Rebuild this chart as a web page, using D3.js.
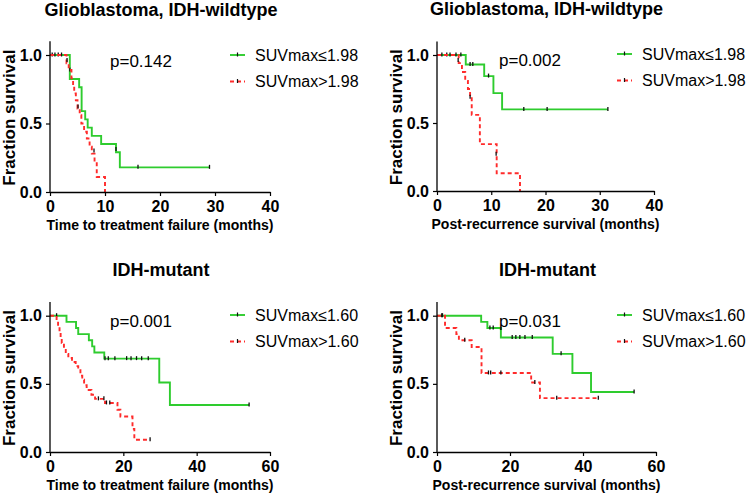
<!DOCTYPE html>
<html><head><meta charset="utf-8">
<script src="https://cdn.jsdelivr.net/npm/d3@7"></script>
<style>body{margin:0;background:#fff}svg{display:block}text{font-family:Arial,"Liberation Sans",sans-serif}</style>
</head><body>
<svg id="c" width="749" height="502"></svg>
<script>
// ---------- data ----------
const titles = ["Glioblastoma, IDH-wildtype","Glioblastoma, IDH-wildtype","IDH-mutant","IDH-mutant"];
const xLabels = ["Time to treatment failure (months)","Post-recurrence survival (months)","Time to treatment failure (months)","Post-recurrence survival (months)"];
const yLabel = "Fraction survival";
const pValues = ["p=0.142","p=0.002","p=0.001","p=0.031"];
const legendLow = ["SUVmax\u22641.98","SUVmax\u22641.98","SUVmax\u22641.60","SUVmax\u22641.60"];
const legendHigh = ["SUVmax>1.98","SUVmax>1.98","SUVmax>1.60","SUVmax>1.60"];
const xTicksTop = [0,10,20,30,40];
const xTicksBottom = [0,20,40,60];
const yTicks = [0,0.5,1.0];
const yTickLabels = ["0.0","0.5","1.0"];

// Panel 1: GBM, time to treatment failure
const p1GreenT = [0,3.6,5.3,5.75,6.4,6.85,7.6,9.3,12.0,12.7];
const p1GreenS = [1,0.825,0.765,0.59,0.53,0.47,0.41,0.35,0.29,0.18];
const p1GreenEnd = 29.0;
const p1GreenCensT = [0.4,0.9,1.5,2.1,3.6,12.0,16.0,29.0];
const p1GreenCensS = [1,1,1,1,0.89,0.31,0.18,0.18];
const p1RedT = [0,3.0,3.4,3.9,4.2,4.4,4.7,5.0,5.4,5.7,6.2,6.7,7.2,7.6,8.1,8.5,10.0];
const p1RedS = [1,0.94,0.89,0.83,0.78,0.72,0.67,0.61,0.56,0.50,0.44,0.39,0.33,0.28,0.22,0.11,0];
const p1RedEnd = 10.0;
const p1RedCensT = [3.1,5.1,8.0];
const p1RedCensS = [0.96,0.62,0.30];

// Panel 2: GBM, post-recurrence survival
const p2GreenT = [0,5.3,8.7,10.4,12.0];
const p2GreenS = [1,0.93,0.845,0.72,0.60];
const p2GreenEnd = 31.5;
const p2GreenCensT = [0.9,1.8,2.4,3.5,4.4,6.1,6.6,9.5,16.0,20.3,31.5];
const p2GreenCensS = [1,1,1,1,1,0.93,0.93,0.845,0.60,0.60,0.60];
const p2RedT = [0,4.0,4.6,5.2,5.7,6.1,6.4,7.9,11.0,15.3];
const p2RedS = [1,0.94,0.875,0.81,0.75,0.69,0.56,0.345,0.13,0];
const p2RedEnd = 15.3;
const p2RedCensT = [3.9,6.1,10.9];
const p2RedCensS = [0.96,0.69,0.27];

// Panel 3: IDH-mutant, time to treatment failure
const p3GreenT = [0,4.5,7.1,7.7,10.6,11.5,12.1,14.8,29.8,32.7];
const p3GreenS = [1,0.955,0.91,0.865,0.82,0.775,0.73,0.685,0.51,0.345];
const p3GreenEnd = 54.3;
const p3GreenCensT = [1.8,15.0,15.9,17.7,20.9,22.1,23.6,25.0,26.8,54.3];
const p3GreenCensS = [1,0.685,0.685,0.685,0.685,0.685,0.685,0.685,0.685,0.345];
const p3RedT = [0,1.8,2.2,2.6,2.9,3.2,3.8,4.3,5.0,6.0,7.0,7.7,8.3,8.8,9.3,10.0,11.3,12.3,15.0,18.4,19.2,22.5,23.0];
const p3RedS = [1,0.96,0.92,0.88,0.84,0.80,0.76,0.72,0.69,0.66,0.63,0.60,0.56,0.53,0.49,0.455,0.42,0.39,0.36,0.31,0.26,0.17,0.09];
const p3RedEnd = 27.3;
const p3RedCensT = [13.2,14.7,15.4,16.3,27.3];
const p3RedCensS = [0.39,0.39,0.36,0.36,0.09];

// Panel 4: IDH-mutant, post-recurrence survival
const p4GreenT = [0,12.1,13.8,17.5,31.7,37.1,42.2];
const p4GreenS = [1,0.955,0.91,0.84,0.72,0.58,0.44];
const p4GreenEnd = 54.0;
const p4GreenCensT = [1.3,14.5,15.4,20.6,21.6,22.7,24.1,26.1,34.0,54.0];
const p4GreenCensS = [1,0.91,0.91,0.84,0.84,0.84,0.84,0.84,0.72,0.44];
const p4RedT = [0,2.2,5.3,6.0,9.5,12.2,25.8,28.2];
const p4RedS = [1,0.91,0.865,0.82,0.77,0.58,0.51,0.395];
const p4RedEnd = 44.2;
const p4RedCensT = [1.5,7.6,14.1,14.7,17.5,26.8,32.8,44.2];
const p4RedCensS = [1,0.82,0.58,0.58,0.58,0.51,0.395,0.395];

// ---------- layout ----------
const GREEN = "#2ecc2e", RED = "#ff2b2b";
const panels = [
  {x0:50, x1:270, yb:192, y1:55, xd:40, xt:xTicksTop,
   g:[p1GreenT,p1GreenS,p1GreenEnd,p1GreenCensT,p1GreenCensS], r:[p1RedT,p1RedS,p1RedEnd,p1RedCensT,p1RedCensS]},
  {x0:437, x1:654, yb:191, y1:55, xd:40, xt:xTicksTop,
   g:[p2GreenT,p2GreenS,p2GreenEnd,p2GreenCensT,p2GreenCensS], r:[p2RedT,p2RedS,p2RedEnd,p2RedCensT,p2RedCensS]},
  {x0:50, x1:270, yb:452, y1:315.7, xd:60, xt:xTicksBottom,
   g:[p3GreenT,p3GreenS,p3GreenEnd,p3GreenCensT,p3GreenCensS], r:[p3RedT,p3RedS,p3RedEnd,p3RedCensT,p3RedCensS]},
  {x0:437, x1:656, yb:452, y1:315.7, xd:60, xt:xTicksBottom,
   g:[p4GreenT,p4GreenS,p4GreenEnd,p4GreenCensT,p4GreenCensS], r:[p4RedT,p4RedS,p4RedEnd,p4RedCensT,p4RedCensS]}
];

const svg = d3.select("#c");

panels.forEach((p,i)=>{
  const x = d3.scaleLinear().domain([0,p.xd]).range([p.x0,p.x1]);
  const y = d3.scaleLinear().domain([0,1]).range([p.yb,p.y1]);
  const g = svg.append("g");
  const cx = (p.x0+p.x1)/2;

  // title
  g.append("text").attr("x",cx+1).attr("y",p.yb-176).attr("text-anchor","middle")
    .attr("font-size",18).attr("font-weight","bold").text(titles[i]);

  // curves
  const line = d3.line().x(d=>x(d[0])).y(d=>y(d[1])).curve(d3.curveStepAfter);
  function drawCurve(arr,color,dash){
    const [T,S,end,CT,CS] = arr;
    const pts = T.map((t,k)=>[t,S[k]]);
    if (end > T[T.length-1]) pts.push([end,S[S.length-1]]);
    g.append("path").attr("d",line(pts)).attr("fill","none").attr("stroke",color)
      .attr("stroke-width",1.9).attr("stroke-dasharray",dash||null);
    g.selectAll(null).data(CT.map((t,k)=>[t,CS[k]])).enter().append("line")
      .attr("x1",d=>x(d[0])).attr("x2",d=>x(d[0]))
      .attr("y1",d=>y(d[1])-2.5).attr("y2",d=>y(d[1])+1.5)
      .attr("stroke","#111").attr("stroke-width",1.3);
  }
  drawCurve(p.g,GREEN,null);
  drawCurve(p.r,RED,"4,3");

  // axes
  const yAxis = d3.axisLeft(y).tickValues(yTicks).tickFormat((d,k)=>yTickLabels[k]).tickSize(4).tickSizeOuter(0);
  const ya = g.append("g").attr("transform",`translate(${p.x0},0)`).call(yAxis);
  ya.select(".domain").remove();
  ya.selectAll("text").attr("font-size",16).attr("font-weight","bold").attr("font-family","Arial,'Liberation Sans',sans-serif").attr("fill","#000").attr("dx",-1);
  ya.selectAll("line").attr("stroke","#000").attr("stroke-width",1.2);
  g.append("line").attr("x1",p.x0).attr("x2",p.x0).attr("y1",p.yb).attr("y2",y(1.1))
    .attr("stroke","#000").attr("stroke-width",1.3);

  const xAxis = d3.axisBottom(x).tickValues(p.xt).tickSize(4).tickSizeOuter(0);
  const xa = g.append("g").attr("transform",`translate(0,${p.yb})`).call(xAxis);
  xa.select(".domain").attr("stroke","#000").attr("stroke-width",1.3);
  xa.selectAll("text").attr("font-size",16).attr("font-weight","bold").attr("font-family","Arial,'Liberation Sans',sans-serif").attr("fill","#000").attr("dy","0.8em");
  xa.selectAll("line").attr("stroke","#000").attr("stroke-width",1.2);

  // axis labels
  g.append("text").attr("x",cx).attr("y",p.yb+38).attr("text-anchor","middle")
    .attr("font-size",14).attr("font-weight","bold").text(xLabels[i]);
  g.append("text").attr("transform",`translate(${p.x0-35},${(p.yb+y(1.1))/2 + 1}) rotate(-90)`)
    .attr("text-anchor","middle").attr("font-size",17).attr("font-weight","bold").text(yLabel);

  // p value
  g.append("text").attr("x",p.x0+(i%2===0?60:62)).attr("y",p.yb-125)
    .attr("font-size",17).text(pValues[i]);

  // legend
  const lx = p.x0+180, ly1 = p.yb-137, ly2 = p.yb-110.5;
  [[ly1,GREEN,null,legendLow[i]],[ly2,RED,"4,3",legendHigh[i]]].forEach(([ly,col,dash,lab])=>{
    g.append("line").attr("x1",lx).attr("x2",lx+15).attr("y1",ly).attr("y2",ly)
      .attr("stroke",col).attr("stroke-width",1.9).attr("stroke-dasharray",dash);
    g.append("line").attr("x1",lx+7.5).attr("x2",lx+7.5).attr("y1",ly-2.5).attr("y2",ly+1.5)
      .attr("stroke","#111").attr("stroke-width",1.2);
    g.append("text").attr("x",lx+25).attr("y",ly+5.5).attr("font-size",16).text(lab);
  });
});
</script>
</body></html>
